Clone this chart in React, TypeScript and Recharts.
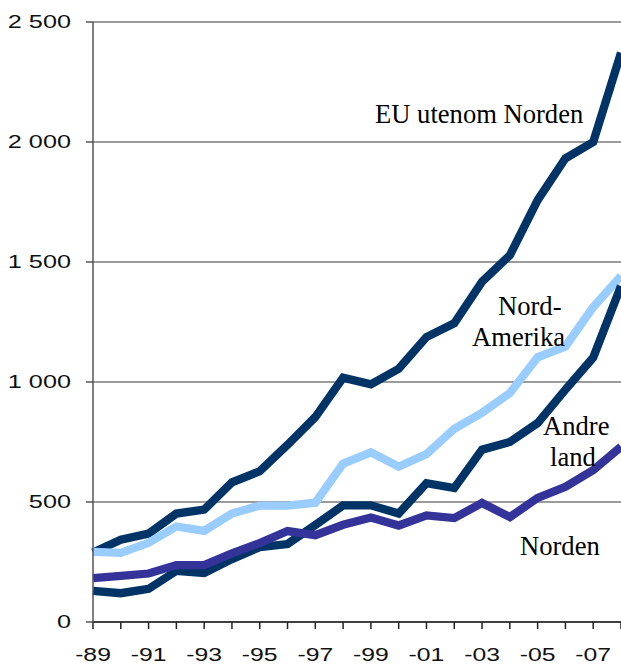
import React from "react";
import { LineChart, Line, XAxis, YAxis, CartesianGrid } from "recharts";

const years = [1989, 1990, 1991, 1992, 1993, 1994, 1995, 1996, 1997, 1998, 1999, 2000, 2001, 2002, 2003, 2004, 2005, 2006, 2007, 2008];
const euUtenomNorden = [290, 343, 368, 452, 468, 582, 628, 738, 854, 1018, 990, 1055, 1187, 1245, 1418, 1528, 1758, 1932, 2000, 2372];
const nordAmerika = [292, 288, 330, 398, 380, 452, 485, 485, 497, 660, 707, 647, 700, 805, 872, 954, 1103, 1148, 1312, 1442];
const andreLand = [130, 120, 138, 213, 204, 262, 312, 325, 404, 486, 486, 452, 578, 558, 718, 750, 829, 968, 1102, 1400];
const norden = [183, 192, 202, 237, 237, 286, 329, 379, 362, 405, 435, 402, 444, 433, 496, 437, 517, 563, 633, 730];
const yTicks = [0, 500, 1000, 1500, 2000, 2500];

const data = years.map((year, i) => ({
  year,
  eu: euUtenomNorden[i],
  na: nordAmerika[i],
  andre: andreLand[i],
  norden: norden[i],
}));

const annotations = [
  { text: "EU utenom Norden", x: 375, y: 123 },
  { text: "Nord-", x: 498, y: 315 },
  { text: "Amerika", x: 472, y: 346 },
  { text: "Andre", x: 543, y: 435 },
  { text: "land", x: 550, y: 466 },
  { text: "Norden", x: 520, y: 555 },
];

const fmtY = (v: number) => {
  const s = String(v);
  return s.length > 3 ? s.slice(0, s.length - 3) + " " + s.slice(-3) : s;
};
const fmtX = (v: number) => (v % 2 === 1 ? "-" + String(v).slice(2) : "");

const TICK_FONT = "Liberation Sans, Arial, sans-serif";

const YTick = (props: any) => {
  const { x, y, payload } = props;
  return (
    <text
      transform={`translate(${x},${y}) scale(1.42,1)`}
      textAnchor="end"
      dy="0.355em"
      fontSize={17.8}
      fontFamily={TICK_FONT}
      fill="#111"
    >
      {fmtY(payload.value)}
    </text>
  );
};

const XTick = (props: any) => {
  const { x, y, payload } = props;
  const label = fmtX(payload.value);
  if (!label) return <g />;
  return (
    <text
      transform={`translate(${x},${y}) scale(1.36,1)`}
      textAnchor="middle"
      dy="0.71em"
      fontSize={18.2}
      fontFamily={TICK_FONT}
      fill="#111"
    >
      {label}
    </text>
  );
};

export default function App() {
  return (
    <div style={{ position: "absolute", left: 0, top: 0, width: 621, height: 665, background: "#fff" }}>
      <LineChart width={621} height={665} data={data} margin={{ top: 22, right: 0, bottom: 0, left: 0 }}>
        <CartesianGrid vertical={false} stroke="#7a7a7a" strokeWidth={1.5} />
        <XAxis
          dataKey="year"
          type="number"
          domain={[1989, 2008]}
          ticks={years}
          interval={0}
          height={43}
          tickSize={7}
          tickMargin={19}
          axisLine={{ stroke: "#222", strokeWidth: 1.5 }}
          tickLine={{ stroke: "#222", strokeWidth: 1.5 }}
          tick={<XTick />}
          allowDecimals={false}
        />
        <YAxis
          type="number"
          domain={[0, 2500]}
          ticks={yTicks}
          interval={0}
          width={93}
          tickSize={7}
          tickMargin={15}
          axisLine={{ stroke: "#555", strokeWidth: 1.5 }}
          tickLine={{ stroke: "#555", strokeWidth: 1.5 }}
          tick={<YTick />}
        />
        <Line dataKey="eu" stroke="#003366" strokeWidth={8.3} dot={false} isAnimationActive={false} />
        <Line dataKey="na" stroke="#99CCFF" strokeWidth={8.3} dot={false} isAnimationActive={false} />
        <Line dataKey="andre" stroke="#003366" strokeWidth={8.3} dot={false} isAnimationActive={false} />
        <Line dataKey="norden" stroke="#333399" strokeWidth={8.3} dot={false} isAnimationActive={false} />
      </LineChart>
      <svg width={621} height={665} style={{ position: "absolute", left: 0, top: 0, pointerEvents: "none" }}>
        {annotations.map((a) => (
          <text key={a.text} x={a.x} y={a.y} fontSize={26.6} fontFamily="Liberation Serif, Times New Roman, serif" fill="#000">
            {a.text}
          </text>
        ))}
      </svg>
    </div>
  );
}
